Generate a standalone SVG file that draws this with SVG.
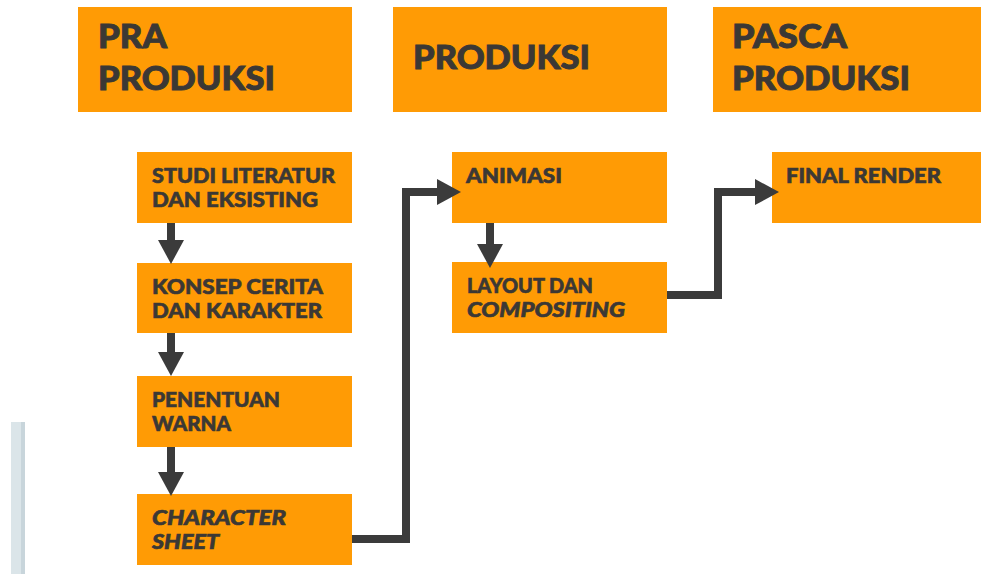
<svg xmlns="http://www.w3.org/2000/svg" width="981" height="574" viewBox="0 0 981 574">
<style>
.box{fill:#FF9B05}
.h{font-family:Lato,"Noto Sans","Liberation Sans",sans-serif;font-weight:900;font-size:32px;fill:#3b3835;stroke:#3b3835;stroke-width:0.9}
.t{font-family:Lato,"Noto Sans","Liberation Sans",sans-serif;font-weight:900;font-size:20px;fill:#3b3835;stroke:#3b3835;stroke-width:0.6}
.i{font-style:italic}
.c{fill:none;stroke:#3b3b3b;stroke-width:8;stroke-linejoin:miter;marker-end:url(#ah)}
</style>
<defs>
<marker id="ah" markerUnits="userSpaceOnUse" viewBox="0 0 24 26" refX="1" refY="13" markerWidth="24" markerHeight="26" orient="auto">
<path d="M0 0 L24 13 L0 26 Z" fill="#3b3b3b"/>
</marker>
</defs>
<rect x="0" y="0" width="981" height="574" fill="#ffffff"/>
<rect x="11" y="422" width="10" height="152" fill="#dbe5e9"/>
<rect x="21" y="422" width="4" height="152" fill="#c8d5db"/>

<g id="pra-produksi">
<rect class="box" x="78" y="7" width="274" height="105"/>
<text class="h" x="98" y="48" textLength="69" lengthAdjust="spacingAndGlyphs">PRA</text>
<text class="h" x="98" y="90" textLength="177" lengthAdjust="spacingAndGlyphs">PRODUKSI</text>
</g>
<g id="produksi">
<rect class="box" x="393" y="7" width="274" height="105"/>
<text class="h" x="413" y="69" textLength="177" lengthAdjust="spacingAndGlyphs">PRODUKSI</text>
</g>
<g id="pasca-produksi">
<rect class="box" x="713" y="7" width="268" height="105"/>
<text class="h" x="732" y="48" textLength="115" lengthAdjust="spacingAndGlyphs">PASCA</text>
<text class="h" x="732" y="90" textLength="178" lengthAdjust="spacingAndGlyphs">PRODUKSI</text>
</g>

<g id="studi">
<rect class="box" x="137" y="152" width="215" height="71"/>
<text class="t" x="152" y="183" textLength="183" lengthAdjust="spacingAndGlyphs">STUDI LITERATUR</text>
<text class="t" x="152" y="207" textLength="166" lengthAdjust="spacingAndGlyphs">DAN EKSISTING</text>
</g>
<g id="konsep">
<rect class="box" x="137" y="263" width="215" height="70"/>
<text class="t" x="152" y="294" textLength="171" lengthAdjust="spacingAndGlyphs">KONSEP CERITA</text>
<text class="t" x="152" y="318" textLength="170" lengthAdjust="spacingAndGlyphs">DAN KARAKTER</text>
</g>
<g id="penentuan">
<rect class="box" x="137" y="376" width="215" height="71"/>
<text class="t" x="152" y="407" textLength="128" lengthAdjust="spacingAndGlyphs">PENENTUAN</text>
<text class="t" x="152" y="431" textLength="79" lengthAdjust="spacingAndGlyphs">WARNA</text>
</g>
<g id="character">
<rect class="box" x="137" y="494" width="215" height="71"/>
<text class="t i" x="152" y="525" textLength="134" lengthAdjust="spacingAndGlyphs">CHARACTER</text>
<text class="t i" x="152" y="549" textLength="67" lengthAdjust="spacingAndGlyphs">SHEET</text>
</g>
<g id="animasi">
<rect class="box" x="452" y="152" width="215" height="71"/>
<text class="t" x="466" y="183" textLength="96" lengthAdjust="spacingAndGlyphs">ANIMASI</text>
</g>
<g id="layout">
<rect class="box" x="452" y="262" width="215" height="71"/>
<text class="t" x="467" y="293" textLength="126" lengthAdjust="spacingAndGlyphs">LAYOUT DAN</text>
<text class="t i" x="467" y="317" textLength="158" lengthAdjust="spacingAndGlyphs">COMPOSITING</text>
</g>
<g id="final-render">
<rect class="box" x="772" y="152" width="209" height="71"/>
<text class="t" x="786" y="183" textLength="155" lengthAdjust="spacingAndGlyphs">FINAL RENDER</text>
</g>

<g id="connectors">
<path class="c" d="M171 223 V241"/>
<path class="c" d="M171 333 V353"/>
<path class="c" d="M171 447 V473"/>
<path class="c" d="M352 539 H406 V192 H438"/>
<path class="c" d="M490 223 V245"/>
<path class="c" d="M667 295 H718 V192 H756"/>
</g>
</svg>
